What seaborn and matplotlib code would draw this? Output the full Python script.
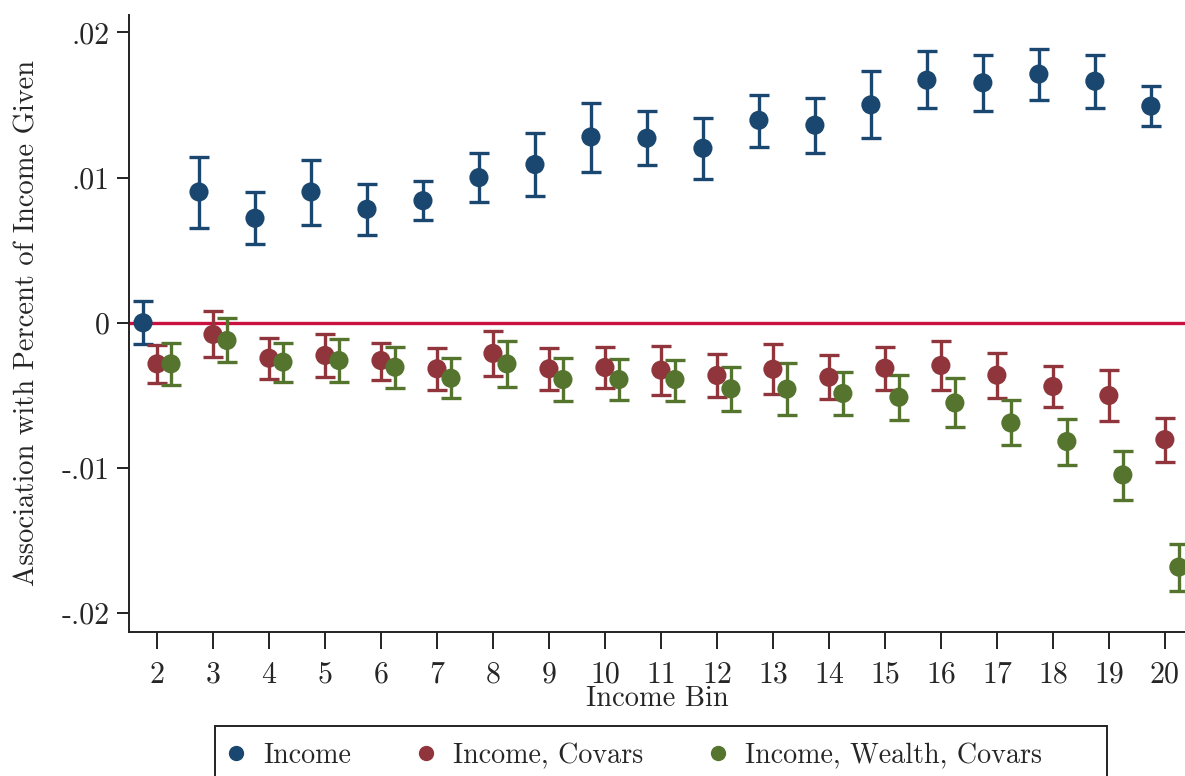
import numpy as np
import pandas as pd
import matplotlib
matplotlib.use("Agg")
import matplotlib.pyplot as plt
from matplotlib.patches import Rectangle
import seaborn as sns

bins = list(range(2, 21))

income = [0.0, 0.00901, 0.00720, 0.00901, 0.00782, 0.00841, 0.01000, 0.01090, 0.01280,
          0.01271, 0.01202, 0.01395, 0.01361, 0.01501, 0.01671, 0.01653, 0.01713, 0.01664, 0.01492]
income_hi = [0.00149, 0.01145, 0.00901, 0.01124, 0.00959, 0.00977, 0.01170, 0.01306, 0.01517,
             0.01457, 0.01411, 0.01570, 0.01549, 0.01731, 0.01869, 0.01844, 0.01887, 0.01844, 0.01630]
income_lo = [-0.00149, 0.00655, 0.00540, 0.00674, 0.00605, 0.00706, 0.00830, 0.00874, 0.01041,
             0.01085, 0.00991, 0.01209, 0.01172, 0.01274, 0.01476, 0.01460, 0.01536, 0.01478, 0.01352]

covars = [-0.00283, -0.00080, -0.00244, -0.00225, -0.00260, -0.00317, -0.00211, -0.00317, -0.00308,
          -0.00326, -0.00363, -0.00320, -0.00375, -0.00313, -0.00294, -0.00361, -0.00439, -0.00501, -0.00805]
covars_hi = [-0.00154, 0.00080, -0.00108, -0.00078, -0.00138, -0.00177, -0.00060, -0.00175, -0.00170,
             -0.00163, -0.00216, -0.00145, -0.00223, -0.00168, -0.00126, -0.00205, -0.00297, -0.00326, -0.00655]
covars_lo = [-0.00418, -0.00234, -0.00384, -0.00372, -0.00391, -0.00460, -0.00368, -0.00464, -0.00451,
             -0.00497, -0.00513, -0.00494, -0.00526, -0.00460, -0.00464, -0.00520, -0.00582, -0.00676, -0.00961]

wealth = [-0.00283, -0.00122, -0.00271, -0.00260, -0.00306, -0.00382, -0.00283, -0.00391, -0.00391,
          -0.00391, -0.00455, -0.00457, -0.00487, -0.00513, -0.00552, -0.00690, -0.00818, -0.01048, -0.01683]
wealth_hi = [-0.00140, 0.00034, -0.00136, -0.00113, -0.00170, -0.00244, -0.00126, -0.00241, -0.00251,
             -0.00253, -0.00308, -0.00280, -0.00340, -0.00359, -0.00382, -0.00533, -0.00660, -0.00880, -0.01522]
wealth_lo = [-0.00428, -0.00269, -0.00405, -0.00407, -0.00446, -0.00520, -0.00441, -0.00538, -0.00533,
             -0.00538, -0.00605, -0.00637, -0.00634, -0.00671, -0.00720, -0.00841, -0.00977, -0.01223, -0.01846]

series_names = ["Income", "Income, Covars", "Income, Wealth, Covars"]
colors = ["#1a476f", "#90353b", "#55752f"]
offsets = [-0.25, 0.0, 0.25]

yticks = [-0.02, -0.01, 0.0, 0.01, 0.02]
ytick_labels = ["-.02", "-.01", "0", ".01", ".02"]

sns.set_theme(style="white")
plt.rcParams["font.family"] = ["cmr10", "DejaVu Serif"]
plt.rcParams["axes.formatter.use_mathtext"] = True

frames = []
for name, vals, lo, hi, off in zip(series_names, [income, covars, wealth],
                                   [income_lo, covars_lo, wealth_lo],
                                   [income_hi, covars_hi, wealth_hi], offsets):
    frames.append(pd.DataFrame({"bin": bins, "x": np.array(bins) + off, "est": vals,
                                "lo": lo, "hi": hi, "series": name}))
df = pd.concat(frames, ignore_index=True)

W, H = 1185, 776
fig = plt.figure(figsize=(W / 100, H / 100), dpi=100)
ax = fig.add_axes([129 / W, 1 - 632 / H, 1 - 129 / W, (632 - 15) / H])

ax.axhline(0, color="#c9103f", lw=2.4, zorder=1)

for name, c in zip(series_names, colors):
    d = df[df["series"] == name]
    ax.errorbar(d["x"], d["est"], yerr=[d["est"] - d["lo"], d["hi"] - d["est"]],
                fmt="none", ecolor=c, elinewidth=2.4, capsize=7.5, capthick=2.4, zorder=2)

sns.scatterplot(data=df, x="x", y="est", hue="series", palette=colors, hue_order=series_names,
                s=190, edgecolor="none", linewidth=0, ax=ax, zorder=3, legend=False)

ax.set_xlim(1.5, 20.36)
ax.set_ylim(-0.0213, 0.0212)
ax.set_xticks(bins)
ax.set_xticklabels([str(b) for b in bins], fontsize=21.5)
ax.set_yticks(yticks)
ax.set_yticklabels(ytick_labels, fontsize=21.5)
ax.set_xlabel("Income Bin", fontsize=20.5, labelpad=-2)
ax.set_ylabel("Association with Percent of Income Given", fontsize=20.5, labelpad=15)

for s in ["top", "right"]:
    ax.spines[s].set_visible(False)
for s in ["left", "bottom"]:
    ax.spines[s].set_color("#222222")
    ax.spines[s].set_linewidth(1.4)
ax.tick_params(axis="y", direction="out", length=9, width=1.4, color="#222222", left=True, pad=5)
ax.tick_params(axis="x", direction="out", length=12, width=1.4, color="#222222", bottom=True, pad=9)
ax.grid(False)

handles = [plt.Line2D([], [], marker="o", ls="none", color=c, markersize=10) for c in colors]
leg = fig.legend(handles, series_names, loc="center left", bbox_to_anchor=(224.8 / W, 1 - 756 / H),
                 borderaxespad=0, borderpad=0, ncol=3, frameon=False, fontsize=20.2,
                 handletextpad=0.56, columnspacing=2.27, handlelength=0.8)

fig.patches.append(Rectangle((215 / W, -0.02), (1107 - 215) / W, 0.02 + 1 - 726 / H,
                             transform=fig.transFigure, fill=False, edgecolor="#222222",
                             linewidth=1.4, zorder=5))

fig.savefig("out.png", dpi=100)
